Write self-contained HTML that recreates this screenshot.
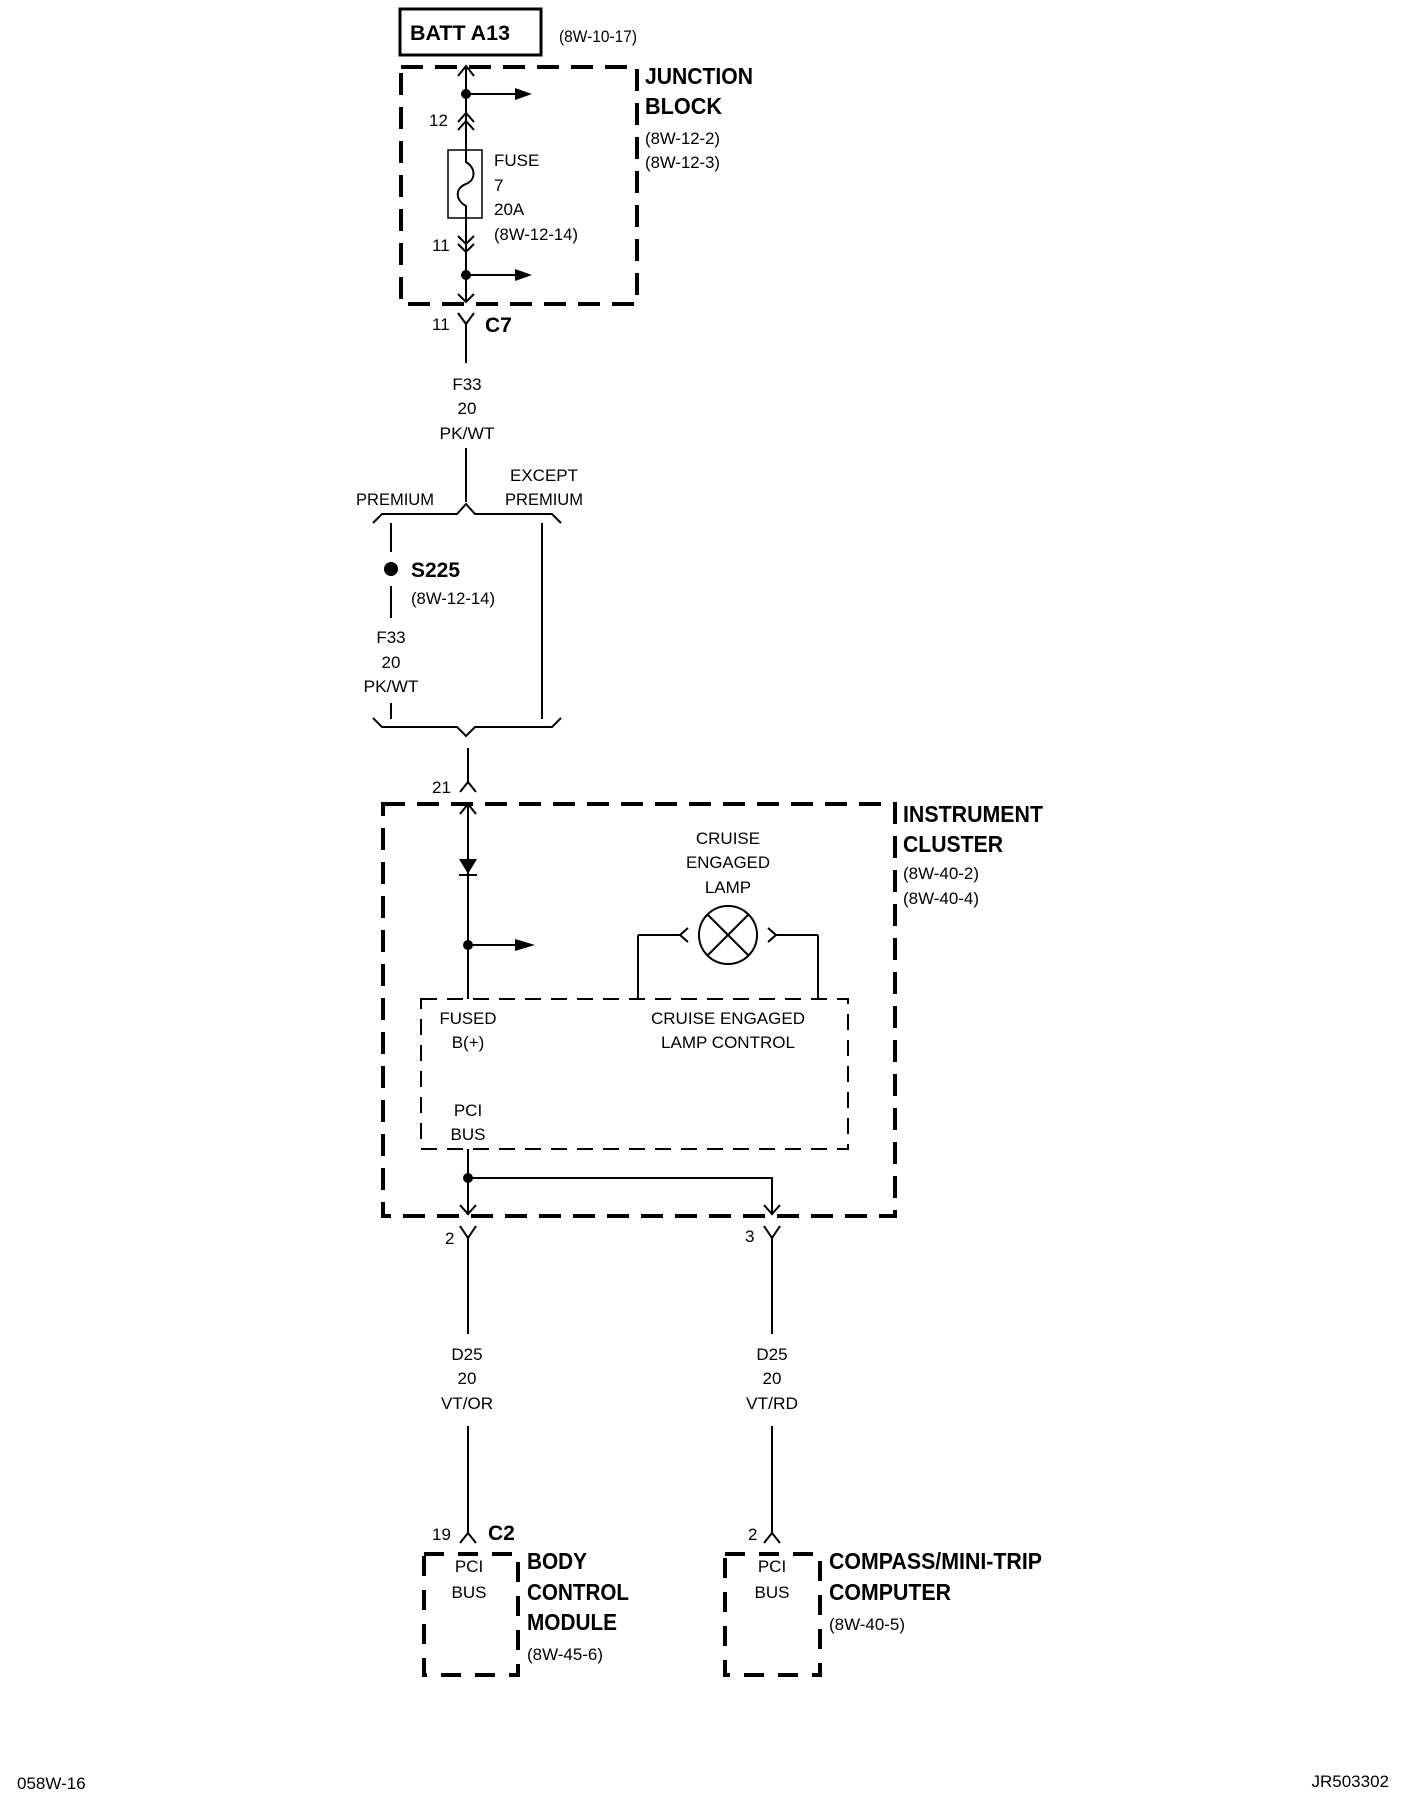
<!DOCTYPE html>
<html><head><meta charset="utf-8"><style>
html,body{margin:0;padding:0;background:#fff;}
svg{display:block;}
text{font-family:"Liberation Sans",Arial,sans-serif;fill:#000;}
.n{font-size:17px;}
.b{font-size:23px;font-weight:bold;}
.c{text-anchor:middle;}
</style></head><body>
<svg width="1408" height="1800" viewBox="0 0 1408 1800" xmlns="http://www.w3.org/2000/svg">
<g fill="none" stroke="#000" stroke-width="2">
<!-- BATT -->
<rect x="400" y="9" width="141" height="46" stroke-width="3"/>
<!-- Junction dashed box -->
<rect x="401" y="67" width="236" height="237" stroke-width="4" stroke-dasharray="22,12"/>
<!-- main wire junction -->
<line x1="466" y1="66" x2="466" y2="302"/>
<polyline points="458,76 466,66 474,76"/>
<polyline points="458,122 466,113 474,122"/>
<polyline points="458,130 466,121 474,130"/>
<line x1="466" y1="94" x2="515" y2="94"/>
<rect x="448" y="150" width="34" height="68" fill="#fff" stroke-width="1.5"/>
<path d="M466 150 L466 162 C476 168 476 180 466 184 C455 188 455 200 466 206 L466 218" stroke-width="2"/>
<polyline points="458,236 466,244 474,236"/>
<polyline points="458,244 466,252 474,244"/>
<line x1="466" y1="275" x2="515" y2="275"/>
<polyline points="458,294 466,302 474,294"/>
<!-- C7 -->
<polyline points="458,313 466,324 474,313"/>
<line x1="466" y1="324" x2="466" y2="363"/>
<line x1="466" y1="448" x2="466" y2="502"/>
<!-- upper brace -->
<polyline points="373,523 382,514 457,514 466,504 475,514 552,514 561,523"/>
<line x1="391" y1="523" x2="391" y2="552"/>
<line x1="391" y1="586" x2="391" y2="618"/>
<line x1="391" y1="703" x2="391" y2="719"/>
<line x1="542" y1="523" x2="542" y2="719"/>
<!-- lower brace -->
<polyline points="373,718 382,727 457,727 466,736 475,727 552,727 561,718"/>
<line x1="468" y1="748" x2="468" y2="782"/>
<polyline points="460,792 468,782 476,792"/>
<!-- instrument cluster -->
<rect x="383" y="804" width="512" height="412" stroke-width="4" stroke-dasharray="22,12"/>
<line x1="468" y1="804" x2="468" y2="999"/>
<polyline points="460,814 468,804 476,814"/>
<line x1="468" y1="945" x2="515" y2="945"/>
<line x1="638" y1="999" x2="638" y2="935"/>
<line x1="638" y1="935" x2="680" y2="935"/>
<polyline points="688,928 680,935 688,942"/>
<circle cx="728" cy="935" r="29"/>
<line x1="707" y1="914" x2="749" y2="956"/>
<line x1="749" y1="914" x2="707" y2="956"/>
<polyline points="768,928 776,935 768,942"/>
<line x1="776" y1="935" x2="818" y2="935"/>
<line x1="818" y1="935" x2="818" y2="999"/>
<rect x="421" y="999" width="427" height="150" stroke-width="2" stroke-dasharray="16,10"/>
<line x1="468" y1="1149" x2="468" y2="1215"/>
<polyline points="468,1178 772,1178 772,1215"/>
<polyline points="460,1205 468,1214 476,1205"/>
<polyline points="764,1205 772,1214 780,1205"/>
<polyline points="460,1226 468,1238 476,1226"/>
<polyline points="764,1226 772,1238 780,1226"/>
<line x1="468" y1="1238" x2="468" y2="1334"/>
<line x1="772" y1="1238" x2="772" y2="1334"/>
<line x1="468" y1="1426" x2="468" y2="1533"/>
<line x1="772" y1="1426" x2="772" y2="1533"/>
<polyline points="460,1543 468,1533 476,1543"/>
<polyline points="764,1543 772,1533 780,1543"/>
<rect x="424" y="1554" width="94" height="121" stroke-width="4" stroke-dasharray="20,14"/>
<rect x="725" y="1554" width="95" height="121" stroke-width="4" stroke-dasharray="20,14"/>
</g>
<g fill="#000">
<polygon points="515,88 532,94 515,100"/>
<polygon points="515,269 532,275 515,281"/>
<polygon points="515,939 535,945 515,951"/>
<circle cx="466" cy="94" r="5"/>
<circle cx="466" cy="275" r="5"/>
<circle cx="391" cy="569" r="7"/>
<circle cx="468" cy="945" r="5"/>
<circle cx="468" cy="1178" r="5"/>
<polygon points="459,859 477,859 468,874"/>
<rect x="459" y="874" width="18" height="2"/>
</g>
<!-- text -->
<text x="410" y="40" class="b" style="font-size:21px" textLength="100" lengthAdjust="spacingAndGlyphs">BATT A13</text>
<text x="559" y="42" class="n" textLength="78" lengthAdjust="spacingAndGlyphs">(8W-10-17)</text>
<text x="645" y="84" class="b" textLength="108" lengthAdjust="spacingAndGlyphs">JUNCTION</text>
<text x="645" y="114" class="b" textLength="77" lengthAdjust="spacingAndGlyphs">BLOCK</text>
<text x="645" y="144" class="n" textLength="75" lengthAdjust="spacingAndGlyphs">(8W-12-2)</text>
<text x="645" y="168" class="n" textLength="75" lengthAdjust="spacingAndGlyphs">(8W-12-3)</text>
<text x="429" y="126" class="n">12</text>
<text x="494" y="166" class="n">FUSE</text>
<text x="494" y="191" class="n">7</text>
<text x="494" y="215" class="n">20A</text>
<text x="494" y="240" class="n" textLength="84" lengthAdjust="spacingAndGlyphs">(8W-12-14)</text>
<text x="432" y="251" class="n">11</text>
<text x="432" y="330" class="n">11</text>
<text x="485" y="332" class="b" style="font-size:21px">C7</text>
<text x="467" y="390" class="n c">F33</text>
<text x="467" y="414" class="n c">20</text>
<text x="467" y="439" class="n c" textLength="55" lengthAdjust="spacingAndGlyphs">PK/WT</text>
<text x="395" y="505" class="n c" textLength="78" lengthAdjust="spacingAndGlyphs">PREMIUM</text>
<text x="544" y="481" class="n c" textLength="68" lengthAdjust="spacingAndGlyphs">EXCEPT</text>
<text x="544" y="505" class="n c" textLength="78" lengthAdjust="spacingAndGlyphs">PREMIUM</text>
<text x="411" y="577" class="b" style="font-size:21px" textLength="49" lengthAdjust="spacingAndGlyphs">S225</text>
<text x="411" y="604" class="n" textLength="84" lengthAdjust="spacingAndGlyphs">(8W-12-14)</text>
<text x="391" y="643" class="n c">F33</text>
<text x="391" y="668" class="n c">20</text>
<text x="391" y="692" class="n c" textLength="55" lengthAdjust="spacingAndGlyphs">PK/WT</text>
<text x="432" y="793" class="n">21</text>
<text x="903" y="822" class="b" textLength="140" lengthAdjust="spacingAndGlyphs">INSTRUMENT</text>
<text x="903" y="852" class="b" textLength="100" lengthAdjust="spacingAndGlyphs">CLUSTER</text>
<text x="903" y="879" class="n" textLength="76" lengthAdjust="spacingAndGlyphs">(8W-40-2)</text>
<text x="903" y="904" class="n" textLength="76" lengthAdjust="spacingAndGlyphs">(8W-40-4)</text>
<text x="728" y="844" class="n c">CRUISE</text>
<text x="728" y="868" class="n c" textLength="84" lengthAdjust="spacingAndGlyphs">ENGAGED</text>
<text x="728" y="893" class="n c">LAMP</text>
<text x="468" y="1024" class="n c" textLength="57" lengthAdjust="spacingAndGlyphs">FUSED</text>
<text x="468" y="1048" class="n c">B(+)</text>
<text x="728" y="1024" class="n c" textLength="154" lengthAdjust="spacingAndGlyphs">CRUISE ENGAGED</text>
<text x="728" y="1048" class="n c" textLength="134" lengthAdjust="spacingAndGlyphs">LAMP CONTROL</text>
<text x="468" y="1116" class="n c">PCI</text>
<text x="468" y="1140" class="n c">BUS</text>
<text x="445" y="1244" class="n">2</text>
<text x="745" y="1242" class="n">3</text>
<text x="467" y="1360" class="n c">D25</text>
<text x="467" y="1384" class="n c">20</text>
<text x="467" y="1409" class="n c" textLength="52" lengthAdjust="spacingAndGlyphs">VT/OR</text>
<text x="772" y="1360" class="n c">D25</text>
<text x="772" y="1384" class="n c">20</text>
<text x="772" y="1409" class="n c" textLength="52" lengthAdjust="spacingAndGlyphs">VT/RD</text>
<text x="432" y="1540" class="n">19</text>
<text x="488" y="1540" class="b" style="font-size:21px">C2</text>
<text x="748" y="1540" class="n">2</text>
<text x="469" y="1572" class="n c">PCI</text>
<text x="469" y="1598" class="n c">BUS</text>
<text x="772" y="1572" class="n c">PCI</text>
<text x="772" y="1598" class="n c">BUS</text>
<text x="527" y="1569" class="b" textLength="60" lengthAdjust="spacingAndGlyphs">BODY</text>
<text x="527" y="1600" class="b" textLength="102" lengthAdjust="spacingAndGlyphs">CONTROL</text>
<text x="527" y="1630" class="b" textLength="90" lengthAdjust="spacingAndGlyphs">MODULE</text>
<text x="527" y="1660" class="n" textLength="76" lengthAdjust="spacingAndGlyphs">(8W-45-6)</text>
<text x="829" y="1569" class="b" textLength="213" lengthAdjust="spacingAndGlyphs">COMPASS/MINI-TRIP</text>
<text x="829" y="1600" class="b" textLength="122" lengthAdjust="spacingAndGlyphs">COMPUTER</text>
<text x="829" y="1630" class="n" textLength="76" lengthAdjust="spacingAndGlyphs">(8W-40-5)</text>
<text x="17" y="1789" class="n">058W-16</text>
<text x="1389" y="1787" class="n" style="text-anchor:end">JR503302</text>
</svg>
</body></html>
